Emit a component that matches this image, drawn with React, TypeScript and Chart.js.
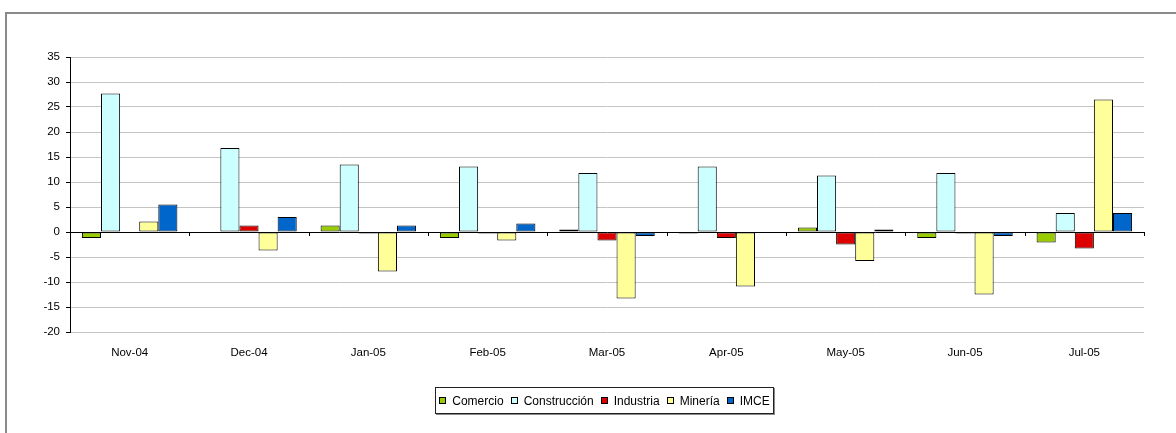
import React, { useEffect, useRef } from "react";
import { Chart, registerables } from "chart.js";

Chart.register(...registerables);

const months = ["Nov-04", "Dec-04", "Jan-05", "Feb-05", "Mar-05", "Apr-05", "May-05", "Jun-05", "Jul-05"];

const comercio = [-1.2, 0, 1.3, -1.2, 0.5, -0.3, 0.9, -1.2, -2.1];
const construccion = [27.7, 16.8, 13.5, 13.1, 11.8, 13.1, 11.3, 11.8, 3.8];
const industria = [0, 1.3, -0.3, -0.3, -1.7, -1.2, -2.5, -0.3, -3.3];
const mineria = [2.1, -3.7, -7.9, -1.7, -13.3, -10.9, -5.8, -12.5, 26.5];
const imce = [5.5, 3.0, 1.3, 1.7, -0.8, 0, 0.5, -0.8, 3.8];

const seriesNames = ["Comercio", "Construcción", "Industria", "Minería", "IMCE"];
const seriesColors = ["#99CC00", "#CCFFFF", "#DD0000", "#FFFF99", "#0066CC"];
const seriesValues = [comercio, construccion, industria, mineria, imce];

const yMin = -20;
const yMax = 35;
const yStep = 5;

const FONT = "'Liberation Sans', Arial, sans-serif";

// Short tick marks hanging under the zero line at every category boundary.
const zeroLineTicks = {
  id: "zeroLineTicks",
  afterDatasetsDraw(chart: any) {
    const { ctx, scales } = chart;
    const x = scales.x;
    const y0 = scales.y.getPixelForValue(0);
    ctx.save();
    ctx.strokeStyle = "#000";
    ctx.lineWidth = 1;
    ctx.beginPath();
    for (let i = 1; i <= months.length; i++) {
      const px = Math.round(x.getPixelForValue(i - 0.5)) + 0.5;
      ctx.moveTo(px, y0);
      ctx.lineTo(px, y0 + 4);
    }
    ctx.stroke();
    ctx.restore();
  },
};

export default function App() {
  const canvasRef = useRef<HTMLCanvasElement | null>(null);

  useEffect(() => {
    if (!canvasRef.current) return;
    const chart = new Chart(canvasRef.current, {
      type: "bar",
      data: {
        labels: months,
        datasets: seriesNames.map((name, i) => ({
          label: name,
          data: seriesValues[i],
          backgroundColor: seriesColors[i],
          borderColor: "#000",
          borderWidth: 1,
          borderSkipped: false,
          categoryPercentage: 0.8,
          barPercentage: 1,
        })),
      },
      options: {
        responsive: false,
        animation: false,
        layout: { padding: { left: 0, right: 32, top: 57, bottom: 71 } },
        plugins: {
          legend: { display: false },
          tooltip: { enabled: false },
        },
        scales: {
          x: {
            grid: { display: false, drawTicks: false },
            border: { display: false },
            ticks: {
              color: "#000",
              padding: 14,
              font: { family: FONT, size: 11.5 },
              maxRotation: 0,
            },
            afterFit: (s: any) => {
              s.height = 30;
            },
          },
          y: {
            min: yMin,
            max: yMax,
            grid: {
              color: (c: any) => (c.tick && c.tick.value === 0 ? "#000" : "#c4c4c4"),
              tickColor: "#000",
              tickLength: 4,
              lineWidth: 1,
            },
            border: { color: "#000", width: 1 },
            ticks: {
              stepSize: yStep,
              color: "#000",
              padding: 6,
              font: { family: FONT, size: 11.5 },
            },
            afterFit: (s: any) => {
              s.width = 70;
            },
          },
        },
      },
      plugins: [zeroLineTicks],
    });
    return () => chart.destroy();
  }, []);

  return (
    <div
      style={{
        position: "fixed",
        left: 0,
        top: 0,
        width: 1176,
        height: 433,
        background: "#fff",
        overflow: "hidden",
        fontFamily: FONT,
      }}
    >
      <div
        style={{
          position: "absolute",
          left: 5,
          top: 12,
          width: 1176,
          height: 433,
          borderLeft: "2px solid #8a8a8a",
          borderTop: "2px solid #8a8a8a",
        }}
      />
      <canvas ref={canvasRef} width={1176} height={433} style={{ position: "absolute", left: 0, top: 0 }} />
      <div
        style={{
          position: "absolute",
          left: 435,
          top: 387,
          width: 337,
          height: 25,
          border: "1px solid #222",
          boxShadow: "1px 1px 0 #888",
          display: "flex",
          alignItems: "center",
          justifyContent: "center",
          fontSize: 12,
          color: "#000",
          whiteSpace: "nowrap",
        }}
      >
        {seriesNames.map((name, i) => (
          <span key={name} style={{ display: "inline-flex", alignItems: "center", marginRight: i < seriesNames.length - 1 ? 7 : 0 }}>
            <span
              style={{
                display: "inline-block",
                width: 5,
                height: 5,
                background: seriesColors[i],
                border: "1px solid #000",
                marginRight: 6,
              }}
            />
            {name}
          </span>
        ))}
      </div>
    </div>
  );
}
